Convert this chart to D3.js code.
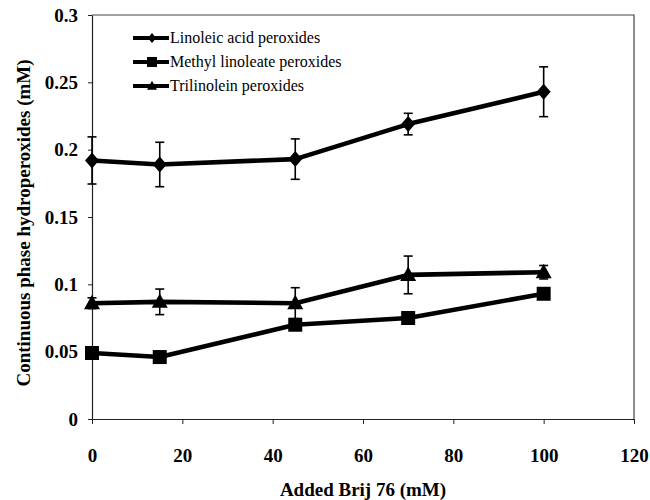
<!DOCTYPE html>
<html>
<head>
<meta charset="utf-8">
<script src="https://cdn.jsdelivr.net/npm/d3@7/dist/d3.min.js"></script>
<style>
  html, body { margin: 0; padding: 0; background: #fff; }
  svg { display: block; }
  .tick text { font-family: "Liberation Serif", "Times New Roman", serif; font-weight: bold; font-size: 19px; fill: #000; }
  .axis-title { font-family: "Liberation Serif", "Times New Roman", serif; font-weight: bold; font-size: 19px; fill: #000; }
  .legend text { font-family: "Liberation Serif", "Times New Roman", serif; font-size: 16px; fill: #000; }
</style>
</head>
<body>
<div id="chart"></div>
<script>
// Added Brij 76 (mM)
const brij = [0, 15, 45, 70, 100];

const seriesNames = ['Linoleic acid peroxides', 'Methyl linoleate peroxides', 'Trilinolein peroxides'];

const linoleicAcid = [0.192, 0.189, 0.193, 0.219, 0.243];
const linoleicAcidErr = [0.0175, 0.0165, 0.015, 0.008, 0.0185];

const methylLinoleate = [0.049, 0.046, 0.070, 0.075, 0.093];
const methylLinoleateErr = [0.003, 0.002, 0.003, 0.002, 0.004];

const trilinolein = [0.086, 0.087, 0.086, 0.107, 0.109];
const trilinoleinErr = [0.004, 0.0095, 0.0115, 0.014, 0.005];

const xTicks = [0, 20, 40, 60, 80, 100, 120];
const yTicks = [0, 0.05, 0.1, 0.15, 0.2, 0.25, 0.3];

const width = 650;
const height = 500;
const margin = { top: 15, right: 16, bottom: 81, left: 92 };

const svg = d3.select('#chart').append('svg')
  .attr('width', width)
  .attr('height', height);

const x = d3.scaleLinear().domain([0, 120]).range([margin.left, width - margin.right]);
const y = d3.scaleLinear().domain([0, 0.3]).range([height - margin.bottom, margin.top]);

// frame (top + right)
svg.append('path')
  .attr('d', `M${x(0)},${y(0.3)}H${x(120)}V${y(0)}`)
  .attr('fill', 'none')
  .attr('stroke', '#444')
  .attr('stroke-width', 1.2);

const axisX = svg.append('g')
  .attr('transform', `translate(0,${y(0)})`)
  .call(d3.axisBottom(x).tickValues(xTicks).tickSize(5).tickSizeOuter(0).tickFormat(d3.format('d')));
axisX.select('.domain').attr('stroke', '#222').attr('stroke-width', 1.2);
axisX.selectAll('.tick line').attr('stroke', '#222');
axisX.selectAll('.tick text').attr('y', 30).attr('dy', '0.71em');

const axisY = svg.append('g')
  .attr('transform', `translate(${x(0)},0)`)
  .call(d3.axisLeft(y).tickValues(yTicks).tickSize(4).tickPadding(10).tickSizeOuter(0).tickFormat((d) => String(+d.toFixed(2))));
axisY.select('.domain').attr('stroke', '#222').attr('stroke-width', 1.2);
axisY.selectAll('.tick line').attr('stroke', '#222');

svg.append('text')
  .attr('class', 'axis-title')
  .attr('x', (x(0) + x(120)) / 2)
  .attr('y', 496)
  .attr('text-anchor', 'middle')
  .text('Added Brij 76 (mM)');

svg.append('text')
  .attr('class', 'axis-title')
  .attr('transform', `translate(30,${(y(0) + y(0.3)) / 2 + 6}) rotate(-90)`)
  .attr('text-anchor', 'middle')
  .text('Continuous phase hydroperoxides (mM)');

const diamond = (w, h) => `M0,${-h}L${w},0L0,${h}L${-w},0Z`;
const square = (s) => `M${-s},${-s}H${s}V${s}H${-s}Z`;
const triangle = (s) => `M0,${-s * 1.05}L${s},${s * 0.75}L${-s},${s * 0.75}Z`;

const series = [
  { name: seriesNames[0], values: linoleicAcid, err: linoleicAcidErr, marker: diamond(7, 8), legendMarker: diamond(4, 5) },
  { name: seriesNames[1], values: methylLinoleate, err: methylLinoleateErr, marker: square(7), legendMarker: square(5) },
  { name: seriesNames[2], values: trilinolein, err: trilinoleinErr, marker: triangle(8), legendMarker: triangle(5) }
];

const line = d3.line().x((d) => x(d.x)).y((d) => y(d.y));

series.forEach((s) => {
  const pts = brij.map((b, i) => ({ x: b, y: s.values[i], e: s.err[i] }));
  const g = svg.append('g');

  const eb = g.selectAll('g.err').data(pts).join('g').attr('class', 'err');
  eb.append('line')
    .attr('x1', (d) => x(d.x)).attr('x2', (d) => x(d.x))
    .attr('y1', (d) => y(d.y - d.e)).attr('y2', (d) => y(d.y + d.e))
    .attr('stroke', '#000').attr('stroke-width', 1.6);
  eb.selectAll('line.cap').data((d) => [d.y - d.e, d.y + d.e].map((v) => ({ x: d.x, v })))
    .join('line').attr('class', 'cap')
    .attr('x1', (d) => x(d.x) - 4.5).attr('x2', (d) => x(d.x) + 4.5)
    .attr('y1', (d) => y(d.v)).attr('y2', (d) => y(d.v))
    .attr('stroke', '#000').attr('stroke-width', 1.6);

  g.append('path')
    .datum(pts)
    .attr('d', line)
    .attr('fill', 'none')
    .attr('stroke', '#000')
    .attr('stroke-width', 4.6)
    .attr('stroke-linejoin', 'round');

  g.selectAll('path.mark').data(pts).join('path')
    .attr('class', 'mark')
    .attr('d', s.marker)
    .attr('transform', (d) => `translate(${x(d.x)},${y(d.y)})`)
    .attr('fill', '#000');
});

// legend
const legend = svg.append('g').attr('class', 'legend').attr('transform', 'translate(133,38)');
const rows = legend.selectAll('g').data(series).join('g')
  .attr('transform', (d, i) => `translate(0,${i * 24})`);
rows.append('line')
  .attr('x1', 0).attr('x2', 36).attr('y1', 0).attr('y2', 0)
  .attr('stroke', '#000').attr('stroke-width', 4);
rows.append('path')
  .attr('d', (d) => d.legendMarker)
  .attr('transform', 'translate(19,0)')
  .attr('fill', '#000');
rows.append('text')
  .attr('x', 37)
  .attr('y', 5)
  .text((d) => d.name);
</script>
</body>
</html>
